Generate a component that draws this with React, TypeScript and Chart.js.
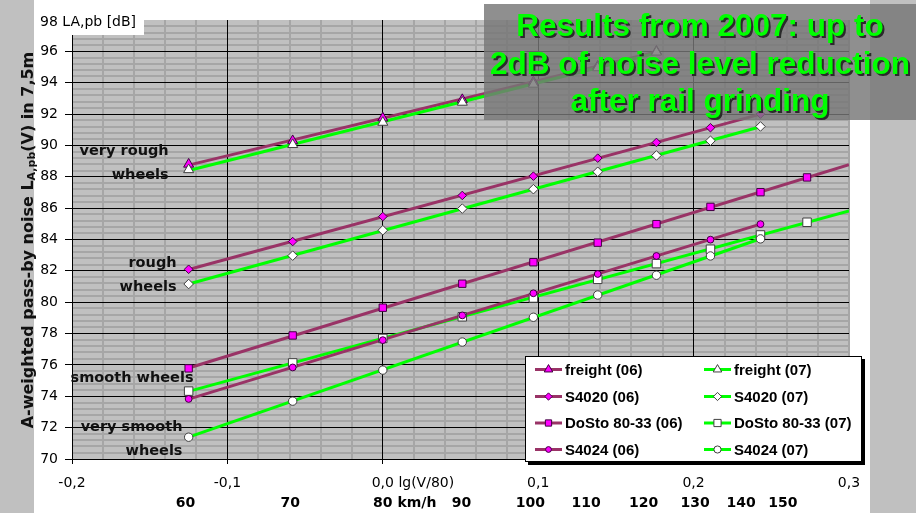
import React, { useEffect, useRef } from 'react';
import { Chart, registerables } from 'chart.js';
import { drawPoint } from 'chart.js/helpers';
Chart.register(...registerables);

// ---- data ----
const speedsKmh = [60, 70, 80, 90, 100, 110, 120, 130, 140, 150];
const freight06 = [88.8, 90.3, 91.75, 92.92, 94.05, 95.05, 96.0];
const freight07 = [88.45, 90.05, 91.47, 92.75, 93.9, 94.95, 95.95];
const s4020_06 = [82.1, 83.87, 85.46, 86.81, 88.04, 89.19, 90.19, 91.13, 92.0];
const s4020_07 = [81.16, 82.97, 84.59, 85.97, 87.21, 88.32, 89.36, 90.3, 91.21];
const dosto06 = [75.78, 77.88, 79.65, 81.18, 82.55, 83.8, 84.98, 86.08, 87.02, 87.96];
const dosto07 = [74.33, 76.13, 77.69, 79.07, 80.27, 81.46, 82.46, 83.38, 84.29, 85.1];
const s4024_06 = [73.83, 75.84, 77.58, 79.16, 80.57, 81.8, 82.95, 83.99, 84.98];
const s4024_07 = [71.39, 73.69, 75.67, 77.46, 79.04, 80.46, 81.72, 82.95, 84.04];

const seriesNames = ['freight (06)', 'freight (07)', 'S4020 (06)', 'S4020 (07)', 'DoSto 80-33 (06)', 'DoSto 80-33 (07)', 'S4024 (06)', 'S4024 (07)'];
const seriesValues = [freight06, freight07, s4020_06, s4020_07, dosto06, dosto07, s4024_06, s4024_07];
const trendEnd: (number | null)[] = [null, null, null, null, 0.3, 0.3, null, null];

const speedTickLabels = ['60', '70', '80', '90', '100', '110', '120', '130', '140', '150'];
const speedTickAt = [-0.127, -0.0596, 0, 0.0506, 0.095, 0.1308, 0.1679, 0.201, 0.2306, 0.2574];

const noteTexts = ['very rough', 'wheels', 'rough', 'wheels', 'smooth wheels', 'very smooth', 'wheels'];
const noteX = [-0.1378, -0.1378, -0.1327, -0.1327, -0.1218, -0.1289, -0.1289];
const noteY = [89.62, 88.13, 82.5, 80.97, 75.18, 72.03, 70.49];

const titleLines = ['Results from 2007: up to', '2dB of noise level reduction', 'after rail grinding'];

// ---- styles ----
const OLD_LINE = '#993366';
const NEW_LINE = '#00ff00';
const markerShape = ['triangle', 'triangle', 'rectRot', 'rectRot', 'rect', 'rect', 'circle', 'circle'];
const markerRadius = [5.8, 5.8, 4.3, 4.8, 5.2, 6, 3.4, 4.2];
const FONT = '"DejaVu Sans"';
const MINOR = '#a6a6a6';

const isOld = (i: number) => i % 2 === 0;
const lineColor = (i: number) => (isOld(i) ? OLD_LINE : NEW_LINE);
const markFill = (i: number) => (isOld(i) ? '#ff00ff' : '#ffffff');
const markBorder = (i: number) => (isOld(i) ? '#400040' : '#404040');

function fit(xs: number[], ys: number[]) {
  const n = xs.length;
  const mx = xs.reduce((a, b) => a + b, 0) / n;
  const my = ys.reduce((a, b) => a + b, 0) / n;
  let sxy = 0, sxx = 0;
  for (let i = 0; i < n; i++) { sxy += (xs[i] - mx) * (ys[i] - my); sxx += (xs[i] - mx) ** 2; }
  const b = sxy / sxx;
  return { a: my - b * mx, b };
}

const near = (v: number, step: number) => Math.abs(v / step - Math.round(v / step)) < 1e-6;

const decor = {
  id: 'decor',
  beforeDraw(chart: any) {
    const { ctx, chartArea: a } = chart;
    ctx.save();
    ctx.fillStyle = '#ffffff';
    ctx.fillRect(0, 0, chart.width, chart.height);
    ctx.fillStyle = '#c0c0c0';
    ctx.fillRect(0, 0, 34, chart.height);
    ctx.fillRect(870, 0, chart.width - 870, chart.height);
    ctx.fillRect(a.left, a.top, a.right - a.left, a.bottom - a.top);
    ctx.restore();
  },
  beforeDatasetsDraw(chart: any) {
    // keep major vertical grid lines continuous over the minor horizontal ones
    const { ctx, chartArea: a } = chart;
    const xs = chart.scales.x;
    ctx.save();
    ctx.strokeStyle = '#000';
    ctx.lineWidth = 1;
    ctx.beginPath();
    xs.ticks.forEach((t: any, i: number) => {
      if (near(t.value, 0.1) && t.value > -0.19 && t.value < 0.29) {
        const px = Math.round(xs.getPixelForTick(i) - 0.5) + 0.5;
        ctx.moveTo(px, a.top);
        ctx.lineTo(px, a.bottom);
      }
    });
    ctx.stroke();
    ctx.restore();
  },
  afterDraw(chart: any) {
    const { ctx } = chart;
    const xs = chart.scales.x;
    const ys = chart.scales.y;
    ctx.save();

    // wheel notes
    ctx.fillStyle = '#111';
    ctx.font = `bold 14.5px ${FONT}`;
    ctx.textAlign = 'right';
    ctx.textBaseline = 'middle';
    noteTexts.forEach((t, i) => ctx.fillText(t, xs.getPixelForValue(noteX[i]), ys.getPixelForValue(noteY[i])));

    // " lg(V/80)" after the 0,0 tick
    ctx.font = `14px ${FONT}`;
    ctx.textAlign = 'left';
    ctx.fillStyle = '#000';
    const x0 = xs.getPixelForValue(0);
    const w00 = ctx.measureText('0,0').width;
    ctx.fillText(' lg(V/80)', x0 + w00 / 2, 483);

    // speed labels
    ctx.font = `bold 14px ${FONT}`;
    speedTickLabels.forEach((t, i) => {
      const px = xs.getPixelForValue(speedTickAt[i]);
      ctx.textAlign = 'center';
      ctx.fillText(t, px, 503);
      if (t === '80') {
        ctx.textAlign = 'left';
        ctx.fillText(' km/h', px + ctx.measureText('80').width / 2, 503);
      }
    });

    // y-axis title
    ctx.save();
    ctx.translate(33, 240);
    ctx.rotate(-Math.PI / 2);
    ctx.textAlign = 'left';
    ctx.textBaseline = 'alphabetic';
    const parts = [
      { t: 'A-weighted pass-by noise L', f: `bold 16px ${FONT}`, dy: 0 },
      { t: 'A,pb', f: `bold 11px ${FONT}`, dy: 2 },
      { t: '(V) in 7,5m', f: `bold 16px ${FONT}`, dy: 0 },
    ];
    let total = 0;
    parts.forEach(p => { ctx.font = p.f; total += ctx.measureText(p.t).width; });
    let cx = -total / 2;
    ctx.fillStyle = '#111';
    parts.forEach(p => { ctx.font = p.f; ctx.fillText(p.t, cx, p.dy); cx += ctx.measureText(p.t).width; });
    ctx.restore();

    // top-left unit label
    ctx.fillStyle = '#ffffff';
    ctx.fillRect(34, 0, 110, 35);
    ctx.fillStyle = '#000';
    ctx.font = `14px ${FONT}`;
    ctx.textAlign = 'left';
    ctx.textBaseline = 'alphabetic';
    ctx.fillText('98 LA,pb [dB]', 40, 26);

    // legend
    const L = 525, T = 356, W = 337, H = 106;
    ctx.fillStyle = '#000';
    ctx.fillRect(L + 3, T + 3, W, H);
    ctx.fillStyle = '#fff';
    ctx.fillRect(L, T, W, H);
    ctx.strokeStyle = '#000';
    ctx.lineWidth = 1;
    ctx.strokeRect(L + 0.5, T + 0.5, W - 1, H - 1);
    const rowY = [369.5, 396.5, 423, 449.5];
    const colX = [535, 704];
    seriesNames.forEach((name, i) => {
      const r = Math.floor(i / 2), c = i % 2;
      const y = rowY[r], x = colX[c];
      ctx.strokeStyle = lineColor(i);
      ctx.lineWidth = 3;
      ctx.beginPath();
      ctx.moveTo(x, y);
      ctx.lineTo(x + 27, y);
      ctx.stroke();
      ctx.fillStyle = markFill(i);
      ctx.strokeStyle = markBorder(i);
      ctx.lineWidth = 1;
      drawPoint(ctx, { pointStyle: markerShape[i], radius: markerRadius[i] * 0.85, rotation: 0, borderWidth: 1 } as any, x + 13.5, y);
      ctx.fillStyle = '#000';
      ctx.font = 'bold 15px "Liberation Sans"';
      ctx.textAlign = 'left';
      ctx.textBaseline = 'middle';
      ctx.fillText(name, x + 30, y + 1);
    });

    // title box
    ctx.fillStyle = 'rgba(118,118,118,0.82)';
    ctx.fillRect(484, 4, 432, 116);
    ctx.font = 'bold 31.5px "Liberation Sans"';
    ctx.textAlign = 'center';
    ctx.textBaseline = 'alphabetic';
    const base = [36, 74, 111];
    titleLines.forEach((t, i) => {
      ctx.fillStyle = '#2a2a2a';
      ctx.fillText(t, 702, base[i] + 2);
      ctx.fillStyle = '#00ff00';
      ctx.fillText(t, 700, base[i]);
    });

    ctx.restore();
  },
};

export default function App() {
  const ref = useRef<HTMLCanvasElement>(null);
  useEffect(() => {
    if (!ref.current) return;
    const xsAll = speedsKmh.map(v => Math.log10(v / 80));
    const pointSets: any[] = [];
    const lineSets: any[] = [];
    seriesValues.forEach((vals, i) => {
      const xv = xsAll.slice(0, vals.length);
      pointSets.push({
        label: seriesNames[i],
        data: vals.map((y, k) => ({ x: xv[k], y })),
        showLine: false,
        pointStyle: markerShape[i],
        pointRadius: markerRadius[i],
        pointBackgroundColor: markFill(i),
        pointBorderColor: markBorder(i),
        pointBorderWidth: 1,
        order: 10 - i,
      });
      const { a, b } = fit(xv, vals);
      const x1 = xv[0];
      const x2 = trendEnd[i] ?? xv[xv.length - 1];
      lineSets.push({
        label: seriesNames[i] + ' trend',
        data: [{ x: x1, y: a + b * x1 }, { x: x2, y: a + b * x2 }],
        showLine: true,
        borderColor: lineColor(i),
        borderWidth: 3,
        pointRadius: 0,
        fill: false,
        order: 30 - i,
      });
    });

    const gridColor = (step: number, edgeGrey: number, hidden: number) => (ctx: any) => {
      const v = ctx.tick ? ctx.tick.value : 0;
      if (Math.abs(v - hidden) < 1e-6) return 'rgba(0,0,0,0)';
      if (Math.abs(v - edgeGrey) < 1e-6) return MINOR;
      return near(v, step) ? '#000000' : MINOR;
    };
    const gridWidth = (step: number, edgeGrey: number) => (ctx: any) => {
      const v = ctx.tick ? ctx.tick.value : 0;
      if (Math.abs(v - edgeGrey) < 1e-6) return 2;
      return near(v, step) ? 1 : 2;
    };
    const tickColor = (step: number, hidden: number) => (ctx: any) => {
      const v = ctx.tick ? ctx.tick.value : 0;
      if (Math.abs(v - hidden) < 1e-6) return 'rgba(0,0,0,0)';
      return near(v, step) ? '#000' : 'rgba(0,0,0,0)';
    };

    const chart = new Chart(ref.current, {
      type: 'scatter',
      data: { datasets: [...pointSets, ...lineSets] },
      options: {
        responsive: false,
        devicePixelRatio: 1,
        animation: false,
        events: [],
        layout: { padding: { left: 0, top: 20, right: 67, bottom: 0 } },
        plugins: { legend: { display: false }, tooltip: { enabled: false } },
        scales: {
          x: {
            type: 'linear',
            min: -0.2,
            max: 0.3,
            afterFit: (s: any) => { s.height = 54; },
            ticks: {
              stepSize: 0.02,
              autoSkip: false,
              maxRotation: 0,
              minRotation: 0,
              padding: 11,
              color: '#000',
              font: { family: 'DejaVu Sans', size: 14 },
              callback: (v: any) => (near(Number(v), 0.1) ? Number(v).toFixed(1).replace('.', ',') : ''),
            },
            grid: {
              color: gridColor(0.1, 0.3, 999),
              lineWidth: gridWidth(0.1, 0.3),
              tickLength: 5,
              tickColor: tickColor(0.1, 999),
              tickWidth: 1,
            },
            border: { color: '#000', width: 1 },
          },
          y: {
            type: 'linear',
            min: 70,
            max: 98,
            afterFit: (s: any) => { s.width = 72; },
            ticks: {
              stepSize: 0.4,
              autoSkip: false,
              padding: 7,
              color: '#000',
              font: { family: 'DejaVu Sans', size: 14 },
              callback: (v: any) => {
                const n = Number(v);
                if (Math.abs(n - 98) < 1e-6) return '';
                return near(n, 2) ? String(Math.round(n)) : '';
              },
            },
            grid: {
              color: gridColor(2, 999, 98),
              lineWidth: gridWidth(2, 999),
              tickLength: 7,
              tickColor: tickColor(2, 98),
              tickWidth: 1,
            },
            border: { color: '#000', width: 1 },
          },
        },
      },
      plugins: [decor],
    } as any);
    return () => chart.destroy();
  }, []);

  return (
    <div style={{ position: 'fixed', left: 0, top: 0, width: 916, height: 513, background: '#fff' }}>
      <canvas ref={ref} width={916} height={513} style={{ width: 916, height: 513, display: 'block' }} />
    </div>
  );
}
